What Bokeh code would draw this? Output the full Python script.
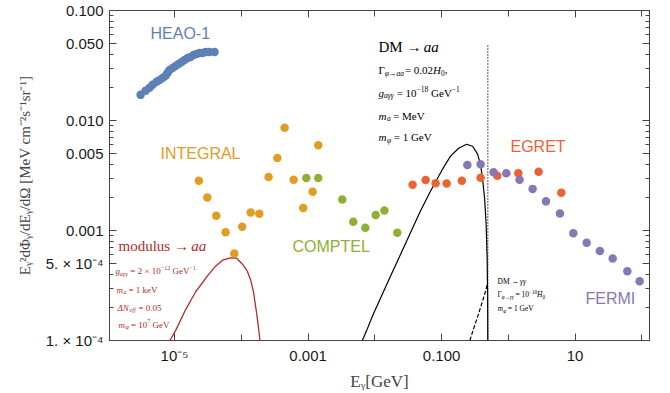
import numpy as np
from bokeh.plotting import figure
from bokeh.models import LogAxis, FixedTicker, Label, Range1d
from bokeh.embed import file_html
from bokeh.resources import INLINE

# ---------------- data ----------------
heao_e = [3.10e-6, 3.68e-6, 4.22e-6, 4.69e-6, 5.38e-6, 5.96e-6, 6.61e-6, 7.33e-6, 7.86e-6, 8.42e-6,
          9.33e-6, 1.035e-5, 1.148e-5, 1.273e-5, 1.411e-5, 1.565e-5, 1.736e-5, 1.925e-5, 2.135e-5,
          2.367e-5, 2.626e-5, 2.911e-5, 3.34e-5, 3.97e-5]
heao_f = [0.0171, 0.0186, 0.0198, 0.0211, 0.0225, 0.0234, 0.0244, 0.0255, 0.0271, 0.0288,
          0.0300, 0.0313, 0.0326, 0.0340, 0.0355, 0.0370, 0.0378, 0.0394, 0.0402, 0.0410,
          0.0410, 0.0419, 0.0419, 0.0419]

integral_e = [2.31e-5, 3.09e-5, 4.22e-5, 5.81e-5, 7.84e-5, 1.03e-4, 1.38e-4, 1.86e-4, 2.56e-4,
              3.46e-4, 4.45e-4, 6.07e-4, 8.47e-4, 1.17e-3, 1.42e-3]
integral_f = [2.84e-3, 2.00e-3, 1.36e-3, 9.66e-4, 6.17e-4, 1.08e-3, 1.46e-3, 1.42e-3, 3.06e-3,
              4.55e-3, 8.59e-3, 2.90e-3, 1.60e-3, 2.25e-3, 5.95e-3]

comptel_e = [9.40e-4, 1.42e-3, 3.25e-3, 4.75e-3, 7.19e-3, 1.03e-2, 1.39e-2, 2.17e-2]
comptel_f = [3.00e-3, 3.00e-3, 1.91e-3, 1.20e-3, 1.06e-3, 1.38e-3, 1.52e-3, 9.53e-4]

egret_e = [3.68e-2, 5.76e-2, 8.13e-2, 0.119, 0.201, 0.384, 0.683, 1.41, 2.84, 6.21]
egret_f = [2.60e-3, 2.88e-3, 2.69e-3, 2.67e-3, 2.84e-3, 3.02e-3, 3.15e-3, 3.31e-3, 3.42e-3, 2.20e-3]

fermi_e = [0.243, 0.384, 0.601, 0.931, 1.47, 2.31, 3.66, 5.92, 9.40, 14.9, 23.5, 36.5, 60.5, 92.5]
fermi_f = [3.93e-3, 4.01e-3, 3.38e-3, 3.31e-3, 2.90e-3, 2.39e-3, 1.84e-3, 1.43e-3, 9.46e-4,
           7.75e-4, 6.51e-4, 5.56e-4, 4.27e-4, 3.45e-4]

modulus_e = [8.50e-6, 1.035e-5, 1.46e-5, 2.06e-5, 3.09e-5, 4.11e-5, 5.24e-5, 6.90e-5, 8.49e-5,
             1.04e-4, 1.23e-4, 1.38e-4, 1.53e-4, 1.69e-4, 1.81e-4, 1.90e-4]
modulus_f = [1.0e-4, 1.23e-4, 1.90e-4, 2.76e-4, 3.85e-4, 4.74e-4, 5.37e-4, 5.65e-4, 5.60e-4,
             4.94e-4, 4.27e-4, 3.55e-4, 2.71e-4, 1.79e-4, 1.31e-4, 1.0e-4]

dm_aa_e = [6.49e-3, 7.52e-3, 9.25e-3, 1.22e-2, 1.72e-2, 2.43e-2, 3.43e-2, 4.84e-2, 6.84e-2, 0.1035,
           0.136, 0.180, 0.237, 0.291, 0.346, 0.384, 0.411, 0.441, 0.464, 0.481, 0.489, 0.492]
dm_aa_f = [1.0e-4, 1.23e-4, 1.68e-4, 2.44e-4, 3.85e-4, 6.08e-4, 9.59e-4, 1.51e-3, 2.29e-3, 3.62e-3,
           4.74e-3, 5.60e-3, 6.08e-3, 5.83e-3, 4.94e-3, 3.93e-3, 2.94e-3, 1.94e-3, 1.16e-3, 5.60e-4,
           2.44e-4, 1.0e-4]

dm_gg_e = [0.265, 0.305, 0.358, 0.411, 0.456, 0.489]
dm_gg_f = [1.0e-4, 1.31e-4, 1.75e-4, 2.29e-4, 2.82e-4, 3.33e-4]

cut_e = [0.492, 0.492]
cut_f = [1.0e-4, 0.048]

x_ticks = [1e-5, 1e-3, 0.1, 10.0]
x_tick_labels = ["10⁻⁵", "0.001", "0.100", "10"]
x_minor = [1e-6, 1e-4, 1e-2, 1.0, 100.0]
y_ticks = [1e-4, 5e-4, 1e-3, 5e-3, 1e-2, 5e-2, 0.1]
y_tick_labels = ["1. × 10⁻⁴", "5. × 10⁻⁴", "0.001", "0.005", "0.010", "0.050", "0.100"]
y_minor = [m * d for d in (1e-4, 1e-3, 1e-2) for m in (2, 3, 4, 6, 7, 8, 9)]

X_LO, X_HI = 1.06e-6, 130.0
Y_LO, Y_HI = 1e-4, 0.1

C_BLUE, C_ORANGE, C_GREEN, C_RED, C_PURPLE = "#5e81b5", "#e19c24", "#8fb032", "#eb6235", "#8778b3"
C_DARKRED = "#b22c2c"

p = figure(width=670, height=393, x_axis_type="log", y_axis_type="log",
           x_range=Range1d(X_LO, X_HI), y_range=Range1d(Y_LO, Y_HI),
           output_backend="svg", toolbar_location=None,
           min_border_left=109, min_border_right=21, min_border_top=10, min_border_bottom=50)
p.xgrid.visible = False
p.ygrid.visible = False
p.outline_line_color = "#444444"
p.background_fill_color = "white"
p.border_fill_color = "white"

# frame coordinates (for placing annotations)
FL, FR, FT, FB = 109, 649, 10, 343


def px_x(px):
    a, b = np.log10(X_LO), np.log10(X_HI)
    return 10 ** (a + (px - FL) / (FR - FL) * (b - a))


def px_y(py):
    a, b = np.log10(Y_LO), np.log10(Y_HI)
    return 10 ** (a + (FB - py) / (FB - FT) * (b - a))


def style_axis(ax, labels=True, minor_len=4):
    ax.major_tick_in = 7
    ax.major_tick_out = 0
    ax.minor_tick_in = minor_len
    ax.minor_tick_out = 0
    ax.axis_line_color = "#444444"
    ax.major_tick_line_color = "#444444"
    ax.minor_tick_line_color = "#444444"
    if labels:
        ax.major_label_text_font = "Liberation Sans"
        ax.major_label_text_font_size = "15px"
        ax.major_label_text_color = "#1a1a1a"
        ax.major_label_standoff = 6
    else:
        ax.major_label_text_font_size = "1px"
        ax.major_label_text_alpha = 0
        ax.major_label_standoff = 0


p.xaxis.ticker = FixedTicker(ticks=x_ticks, minor_ticks=x_minor)
p.yaxis.ticker = FixedTicker(ticks=y_ticks, minor_ticks=y_minor)
p.xaxis.major_label_overrides = dict(zip(x_ticks, x_tick_labels))
p.yaxis.major_label_overrides = dict(zip(y_ticks, y_tick_labels))
style_axis(p.xaxis[0], minor_len=6)
style_axis(p.yaxis[0])

p.xaxis.axis_label = "Eᵧ[GeV]"
p.xaxis.axis_label_text_font = "Liberation Serif"
p.xaxis.axis_label_text_font_style = "normal"
p.xaxis.axis_label_text_font_size = "17px"
p.xaxis.axis_label_standoff = 5
p.yaxis.axis_label = "Eᵧ²dΦᵧ/dEᵧ/dΩ [MeV cm⁻²s⁻¹sr⁻¹]"
p.yaxis.axis_label_text_font = "Liberation Serif"
p.yaxis.axis_label_text_font_style = "normal"
p.yaxis.axis_label_text_font_size = "15px"
p.yaxis.axis_label_standoff = 10

top = LogAxis(ticker=FixedTicker(ticks=x_ticks, minor_ticks=x_minor))
style_axis(top, labels=False, minor_len=6)
p.add_layout(top, "above")
right = LogAxis(ticker=FixedTicker(ticks=y_ticks, minor_ticks=y_minor))
style_axis(right, labels=False)
p.add_layout(right, "right")

# ---------------- curves ----------------
p.line(modulus_e, modulus_f, line_color=C_DARKRED, line_width=1.3)
p.line(dm_aa_e, dm_aa_f, line_color="black", line_width=1.2)
p.line(dm_gg_e, dm_gg_f, line_color="black", line_width=1.2, line_dash="4 2")
p.line(cut_e, cut_f, line_color="black", line_width=1.3, line_dash="1 2")

# ---------------- data points ----------------
for e, f, c in [(heao_e, heao_f, C_BLUE), (integral_e, integral_f, C_ORANGE),
                (comptel_e, comptel_f, C_GREEN), (egret_e, egret_f, C_RED),
                (fermi_e, fermi_f, C_PURPLE)]:
    p.scatter(e, f, size=8.5, fill_color=c, line_color=None)

# ---------------- annotations ----------------
for txt, px, py, c in [("HEAO-1", 150, 33, C_BLUE), ("INTEGRAL", 160, 154, C_ORANGE),
                       ("COMPTEL", 292, 248, C_GREEN), ("EGRET", 510, 147, C_RED),
                       ("FERMI", 585, 301, C_PURPLE)]:
    p.add_layout(Label(x=px_x(px), y=px_y(py), text=txt, text_font="Liberation Sans",
                       text_font_size="16px", text_color=c, text_baseline="middle",
                       text_align="left"))

WIDTH = {' ': 250, 'a': 444, 'e': 444, 'f': 333, 'g': 500, 'k': 500, 'm': 778, '=': 564,
         '×': 564, '.': 250, ',': 250, 'G': 722, 'V': 722, 'M': 889, 'D': 722, 'H': 722,
         'N': 722, 'Γ': 578, 'Δ': 612, 'φ': 521, 'γ': 440, '→': 900, '−': 564, 'd': 500,
         'u': 500, 'l': 278, 'o': 500, 's': 389}


def rich(px, py, parts, size, color):
    x = px
    for txt, kind in parts:
        small = kind in ("b", "bi", "p")
        fs = size * 0.68 if small else size
        dy = size * 0.28 if kind in ("b", "bi") else (-size * 0.38 if kind == "p" else 0)
        lead = len(txt) - len(txt.lstrip(" "))
        x += lead * WIDTH[' '] / 1000 * fs
        t = txt.strip(" ")
        p.add_layout(Label(x=px_x(x), y=px_y(py + dy), text=t, text_font="Liberation Serif",
                           text_font_size=f"{fs:.1f}px", text_color=color,
                           text_font_style="italic" if kind in ("i", "bi") else "normal",
                           text_baseline="middle", text_align="left"))
        x += sum(WIDTH.get(ch, 500) for ch in txt.lstrip(" ")) / 1000 * fs


# DM -> aa block
rich(378, 47, [("DM → ", "n"), ("aa", "i")], 15, "black")
rich(378, 70, [("Γ", "n"), ("φ→aa", "bi"), (" = 0.02", "n"), ("H", "i"), ("0", "b"), (",", "n")], 11, "black")
rich(378, 93, [("g", "i"), ("aγγ", "bi"), (" = 10", "n"), ("−18", "p"), (" GeV", "n"), ("−1", "p")], 11, "black")
rich(378, 116, [("m", "i"), ("a", "bi"), (" = MeV", "n")], 11, "black")
rich(378, 138, [("m", "i"), ("φ", "bi"), (" = 1 GeV", "n")], 11, "black")

# DM -> gamma gamma block
rich(497, 283, [("DM → ", "n"), ("γγ", "i")], 7.5, "black")
rich(497, 297, [("Γ", "n"), ("φ→γγ", "bi"), (" = 10", "n"), ("−10", "p"), ("H", "i"), ("0", "b")], 7.5, "black")
rich(497, 311, [("m", "i"), ("φ", "bi"), (" = 1 GeV", "n")], 7.5, "black")

# modulus block
rich(118, 248, [("modulus → ", "n"), ("aa", "i")], 15, C_DARKRED)
rich(115, 273, [("g", "i"), ("aγγ", "bi"), (" = 2 × 10", "n"), ("−12", "p"), (" GeV", "n"), ("−1", "p")], 9, C_DARKRED)
rich(116, 292, [("m", "i"), ("a", "bi"), (" = 1 keV", "n")], 9, C_DARKRED)
rich(117, 310, [("ΔN", "i"), ("eff", "bi"), (" = 0.05", "n")], 9, C_DARKRED)
rich(118, 327, [("m", "i"), ("φ", "bi"), (" = 10", "n"), ("7", "p"), (" GeV", "n")], 9, C_DARKRED)

open("out.html", "w").write(file_html(p, INLINE))
